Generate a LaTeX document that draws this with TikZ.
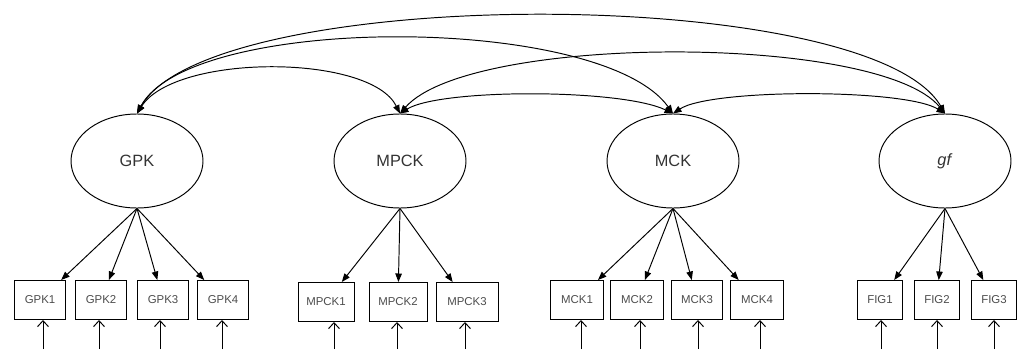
\documentclass[tikz,border=0pt]{standalone}
\usepackage{fontspec}
\setmainfont{Liberation Sans}
\usetikzlibrary{arrows.meta,shapes.geometric}

\begin{document}
\begin{tikzpicture}[%
  latent/.style={draw, ellipse, minimum width=2.64cm, minimum height=1.88cm, inner sep=0pt, font=\fontsize{9.3}{11}\selectfont, text=black!80},%
  indicator/.style={draw, rectangle, minimum height=0.78cm, inner sep=0pt, font=\fontsize{6.5}{8}\selectfont, text=black!70},%
  loading/.style={-{Triangle[length=0.17cm,width=0.13cm]}},%
  errarrow/.style={-{Straight Barb[length=0.12cm,width=0.22cm]}},%
  covar/.style={{Triangle[length=0.17cm,width=0.13cm]}-{Triangle[length=0.17cm,width=0.13cm]}},%
  line width=0.55pt]%
\useasboundingbox (0, 0) rectangle (20.64, 6.98);%
% latent factors
\node[latent] (GPK) at (2.74, 3.76) {GPK};%
\node[latent] (MPCK) at (8.00, 3.76) {MPCK};%
\node[latent] (MCK) at (13.46, 3.76) {MCK};%
\node[latent] (gf) at (18.90, 3.76) {\textit{gf}};%
% indicators
\node[indicator, minimum width=1.02cm] (GPK1) at (0.80, 0.98) {GPK1};%
\node[indicator, minimum width=1.02cm] (GPK2) at (2.02, 0.98) {GPK2};%
\node[indicator, minimum width=1.02cm] (GPK3) at (3.26, 0.98) {GPK3};%
\node[indicator, minimum width=1.02cm] (GPK4) at (4.46, 0.98) {GPK4};%
\node[indicator, minimum width=1.12cm] (MPCK1) at (6.52, 0.94) {MPCK1};%
\node[indicator, minimum width=1.16cm] (MPCK2) at (7.96, 0.94) {MPCK2};%
\node[indicator, minimum width=1.24cm] (MPCK3) at (9.34, 0.94) {MPCK3};%
\node[indicator, minimum width=1.06cm] (MCK1) at (11.54, 0.98) {MCK1};%
\node[indicator, minimum width=1.06cm] (MCK2) at (12.74, 0.98) {MCK2};%
\node[indicator, minimum width=1.02cm] (MCK3) at (13.94, 0.98) {MCK3};%
\node[indicator, minimum width=1.06cm] (MCK4) at (15.14, 0.98) {MCK4};%
\node[indicator, minimum width=0.90cm] (FIG1) at (17.60, 0.98) {FIG1};%
\node[indicator, minimum width=0.90cm] (FIG2) at (18.74, 0.98) {FIG2};%
\node[indicator, minimum width=0.90cm] (FIG3) at (19.88, 0.98) {FIG3};%
% loadings
\draw[loading] (GPK.south) -- (GPK1);%
\draw[loading] (GPK.south) -- (GPK2);%
\draw[loading] (GPK.south) -- (GPK3);%
\draw[loading] (GPK.south) -- (GPK4);%
\draw[loading] (MPCK.south) -- (MPCK1);%
\draw[loading] (MPCK.south) -- (MPCK2);%
\draw[loading] (MPCK.south) -- (MPCK3);%
\draw[loading] (MCK.south) -- (MCK1);%
\draw[loading] (MCK.south) -- (MCK2);%
\draw[loading] (MCK.south) -- (MCK3);%
\draw[loading] (MCK.south) -- (MCK4);%
\draw[loading] (gf.south) -- (FIG1);%
\draw[loading] (gf.south) -- (FIG2);%
\draw[loading] (gf.south) -- (FIG3);%
% error terms
\coordinate (eGPK1) at (0.86, 0);%
\coordinate (eGPK2) at (1.98, 0);%
\coordinate (eGPK3) at (3.20, 0);%
\coordinate (eGPK4) at (4.44, 0);%
\coordinate (eMPCK1) at (6.68, 0);%
\coordinate (eMPCK2) at (7.94, 0);%
\coordinate (eMPCK3) at (9.30, 0);%
\coordinate (eMCK1) at (11.62, 0);%
\coordinate (eMCK2) at (12.80, 0);%
\coordinate (eMCK3) at (13.96, 0);%
\coordinate (eMCK4) at (15.20, 0);%
\coordinate (eFIG1) at (17.62, 0);%
\coordinate (eFIG2) at (18.74, 0);%
\coordinate (eFIG3) at (19.88, 0);%
\draw[errarrow] (eGPK1) -- (eGPK1 |- GPK1.south);%
\draw[errarrow] (eGPK2) -- (eGPK2 |- GPK2.south);%
\draw[errarrow] (eGPK3) -- (eGPK3 |- GPK3.south);%
\draw[errarrow] (eGPK4) -- (eGPK4 |- GPK4.south);%
\draw[errarrow] (eMPCK1) -- (eMPCK1 |- MPCK1.south);%
\draw[errarrow] (eMPCK2) -- (eMPCK2 |- MPCK2.south);%
\draw[errarrow] (eMPCK3) -- (eMPCK3 |- MPCK3.south);%
\draw[errarrow] (eMCK1) -- (eMCK1 |- MCK1.south);%
\draw[errarrow] (eMCK2) -- (eMCK2 |- MCK2.south);%
\draw[errarrow] (eMCK3) -- (eMCK3 |- MCK3.south);%
\draw[errarrow] (eMCK4) -- (eMCK4 |- MCK4.south);%
\draw[errarrow] (eFIG1) -- (eFIG1 |- FIG1.south);%
\draw[errarrow] (eFIG2) -- (eFIG2 |- FIG2.south);%
\draw[errarrow] (eFIG3) -- (eFIG3 |- FIG3.south);%
% covariances
\draw[covar] (GPK.north) .. controls +(0.76, 1.20) and +(-0.60, 1.20) .. (MPCK.north);%
\draw[covar] (GPK.north) .. controls +(1.06, 2.00) and +(-1.44, 2.00) .. (MCK.north);%
\draw[covar] (GPK.north) .. controls +(1.46, 2.60) and +(-1.50, 2.60) .. (gf.north);%
\draw[covar] (MPCK.north) .. controls +(0.80, 0.50) and +(-1.04, 0.50) .. (MCK.north);%
\draw[covar] (MPCK.north) .. controls +(1.40, 1.60) and +(-1.30, 1.60) .. (gf.north);%
\draw[covar] (MCK.north) .. controls +(0.76, 0.50) and +(-0.80, 0.50) .. (gf.north);%
\end{tikzpicture}
\end{document}
